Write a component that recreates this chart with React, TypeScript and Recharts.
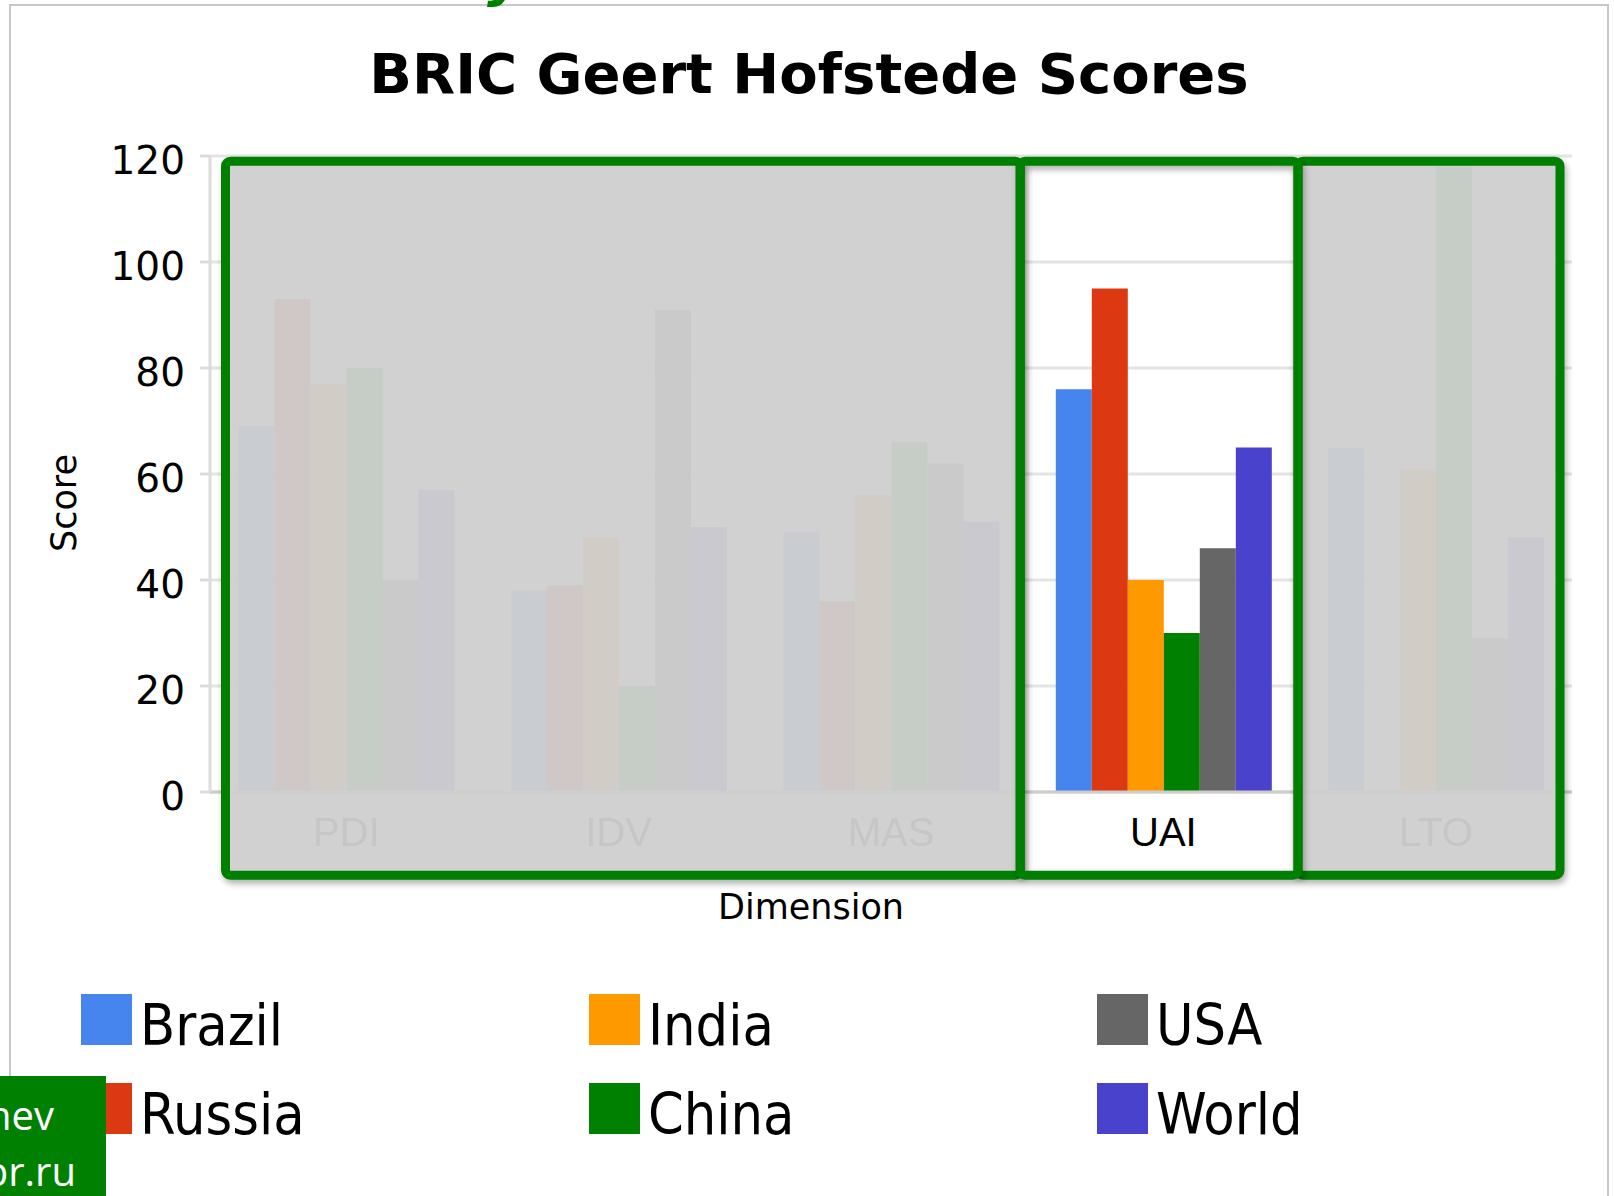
import { BarChart, Bar, XAxis, YAxis, CartesianGrid, ReferenceArea } from 'recharts';

const dimensions = ['PDI', 'IDV', 'MAS', 'UAI', 'LTO'];
const countries = ['Brazil', 'Russia', 'India', 'China', 'USA', 'World'];
const colors = ['#4684ee', '#dc3912', '#ff9900', '#008000', '#666666', '#4942cc'];

const brazil = [69, 38, 49, 76, 65];
const russia = [93, 39, 36, 95, null];
const india = [77, 48, 56, 40, 61];
const china = [80, 20, 66, 30, 118];
const usa = [40, 91, 62, 46, 29];
const world = [57, 50, 51, 65, 48];

const yTicks = [0, 20, 40, 60, 80, 100, 120];

// greyed-out dimensions and the one left in focus
const dimmed = [
  { x1: 'PDI', x2: 'MAS', inset: [15.5, 7] },
  { x1: 'LTO', x2: 'LTO', inset: [-1.6, 12] },
];
const focus = { x1: 'UAI', x2: 'UAI', inset: [-7, 1.6] };

const series = [brazil, russia, india, china, usa, world];
const data = dimensions.map((d, i) => {
  const row: Record<string, string | number | null> = { dimension: d };
  countries.forEach((c, j) => { row[c] = series[j][i]; });
  return row;
});

const W = 1614;
const H = 1196;

function boxShape(inset: number[], fill: string, opacity: number) {
  return (p: any) => (
    <rect
      x={p.x + inset[0]}
      y={p.y}
      width={p.width - inset[0] - inset[1]}
      height={p.height}
      rx={5}
      fill={fill}
      fillOpacity={opacity}
      stroke="#008000"
      strokeWidth={9}
      style={{ filter: 'drop-shadow(2px 4px 3px rgba(0,0,0,0.3))' }}
    />
  );
}

export default function App() {
  return (
    <div style={{ position: 'fixed', left: 0, top: 0, width: W, height: H, overflow: 'hidden', background: '#fff', fontFamily: 'DejaVu Sans' }}>
      <div style={{ position: 'absolute', left: 0, top: 0 }}>
        <BarChart
          width={W}
          height={H}
          data={data}
          margin={{ top: 156, right: 42, left: 110, bottom: 344 }}
          barCategoryGap="10.5%"
          barGap={0}
        >
          <CartesianGrid vertical={false} stroke="#e4e4e4" strokeWidth={3} />
          <XAxis
            dataKey="dimension"
            height={60}
            tickLine={false}
            tickSize={0}
            tickMargin={26}
            axisLine={{ stroke: '#cccccc', strokeWidth: 3 }}
            tick={{ fontSize: 40, fill: '#000', fontFamily: 'Liberation Sans' }}
          />
          <YAxis
            width={100}
            domain={[0, 120]}
            ticks={yTicks}
            tickSize={10}
            tickMargin={15}
            axisLine={{ stroke: '#dcdcdc', strokeWidth: 3 }}
            tickLine={{ stroke: '#dcdcdc', strokeWidth: 3 }}
            tick={{ fontSize: 39, fill: '#000', fontFamily: 'DejaVu Sans', dy: 4 }}
          />
          {countries.map((c, j) => (
            <Bar key={c} dataKey={c} fill={colors[j]} isAnimationActive={false} />
          ))}
          {dimmed.map((a) => (
            <ReferenceArea
              key={a.x1}
              x1={a.x1}
              x2={a.x2}
              y1={-15.7}
              y2={119}
              ifOverflow="visible"
              zIndex={2500}
              shape={boxShape(a.inset, '#d2d2d2', 0.94)}
            />
          ))}
          <ReferenceArea
            x1={focus.x1}
            x2={focus.x2}
            y1={-15.7}
            y2={119}
            ifOverflow="visible"
            zIndex={2500}
            shape={boxShape(focus.inset, 'none', 0)}
          />
        </BarChart>
      </div>

      <svg width={W} height={H} style={{ position: 'absolute', left: 0, top: 0, pointerEvents: 'none' }}>
        <rect x={10} y={5} width={1598} height={1300} fill="none" stroke="#c8c8c8" strokeWidth={2} />
        <text x={487} y={-5} fontSize={56} fontWeight="bold" fill="#008000" fontStyle="italic">y</text>
        <text x={809} y={93} textAnchor="middle" fontSize={56} fontWeight="bold" fill="#000">
          BRIC Geert Hofstede Scores
        </text>
        <text x={811} y={919} textAnchor="middle" fontSize={35} fill="#000">Dimension</text>
        <text x={76} y={503} textAnchor="middle" fontSize={35} fill="#000" transform="rotate(-90 76 503)">Score</text>

        {countries.map((c, j) => {
          const col = Math.floor(j / 2);
          const row = j % 2;
          const x = 81 + col * 508;
          const y = 994 + row * 89;
          return (
            <g key={c}>
              <rect x={x} y={y} width={51} height={51} fill={colors[j]} />
              <text x={x + 59} y={y + 51} fontSize={57} fontFamily="DejaVu Sans Condensed" fontStretch="condensed" fill="#000">
                {c}
              </text>
            </g>
          );
        })}

        <rect x={0} y={1076} width={106} height={130} fill="#008000" />
        <text x={54} y={1130} textAnchor="end" fontSize={40} fontFamily="Open Sans" fill="#fff">hev</text>
        <text x={76} y={1186} textAnchor="end" fontSize={40} fontFamily="Open Sans" fill="#fff">br.ru</text>
      </svg>
    </div>
  );
}
